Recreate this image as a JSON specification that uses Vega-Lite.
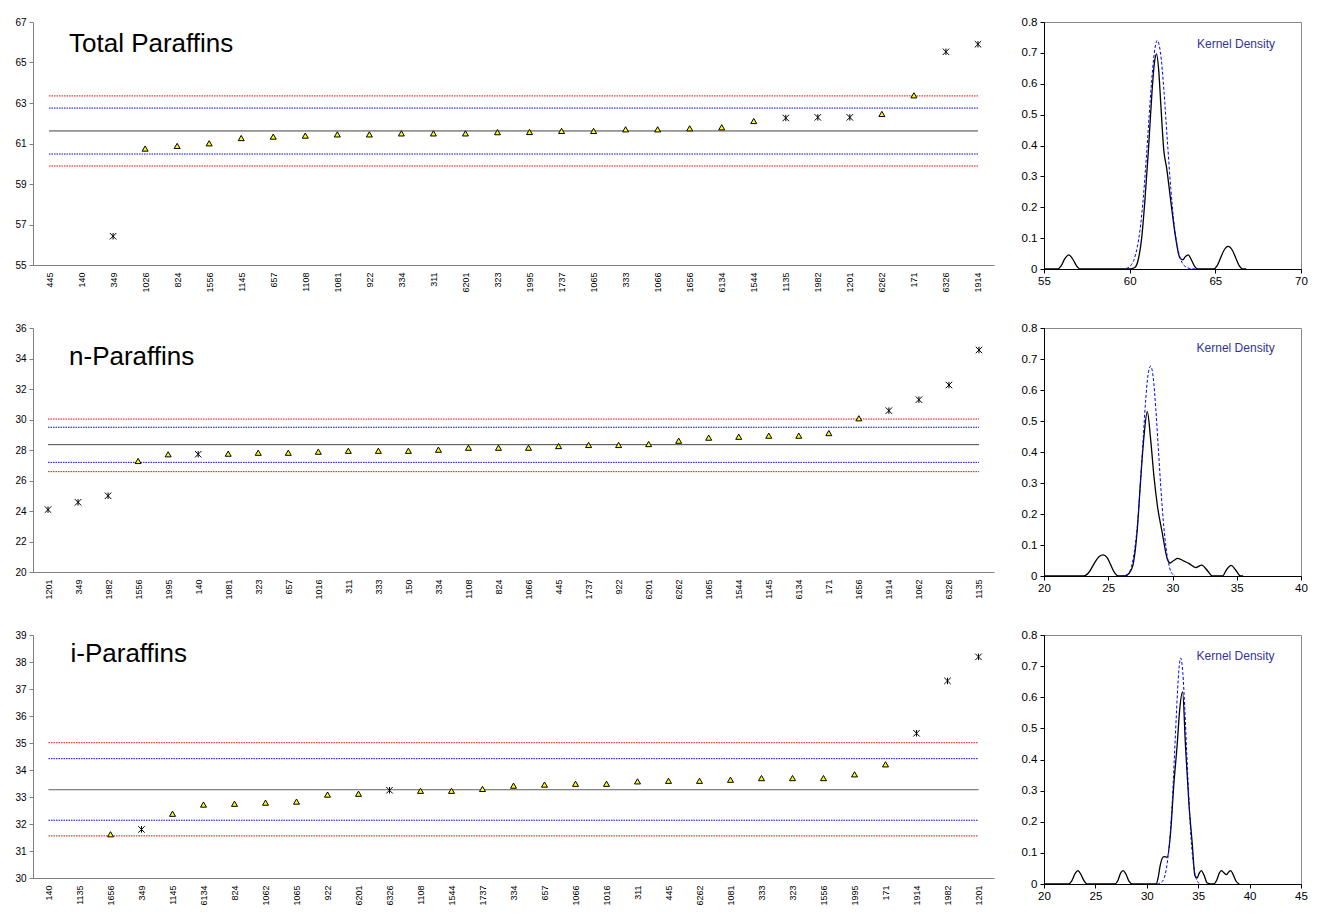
{
  "$schema": "https://vega.github.io/schema/vega-lite/v6.json",
  "padding": {"left": 14, "top": 15, "right": 5, "bottom": 5},
  "background": "#ffffff",
  "config": {
    "font": "Liberation Sans",
    "view": {"stroke": null},
    "axis": {"grid": false, "title": null, "labelFont": "Liberation Sans", "labelColor": "#000000", "labelOverlap": false, "labelFlush": false}
  },
  "datasets": {
    "tp": [
      {"code": "349", "v": 56.42, "o": 1},
      {"code": "1026", "v": 60.75, "o": 0},
      {"code": "824", "v": 60.88, "o": 0},
      {"code": "1556", "v": 61.01, "o": 0},
      {"code": "1145", "v": 61.27, "o": 0},
      {"code": "657", "v": 61.34, "o": 0},
      {"code": "1108", "v": 61.39, "o": 0},
      {"code": "1081", "v": 61.45, "o": 0},
      {"code": "922", "v": 61.45, "o": 0},
      {"code": "334", "v": 61.5, "o": 0},
      {"code": "311", "v": 61.5, "o": 0},
      {"code": "6201", "v": 61.5, "o": 0},
      {"code": "323", "v": 61.56, "o": 0},
      {"code": "1995", "v": 61.57, "o": 0},
      {"code": "1737", "v": 61.62, "o": 0},
      {"code": "1065", "v": 61.62, "o": 0},
      {"code": "333", "v": 61.7, "o": 0},
      {"code": "1066", "v": 61.7, "o": 0},
      {"code": "1656", "v": 61.75, "o": 0},
      {"code": "6134", "v": 61.8, "o": 0},
      {"code": "1544", "v": 62.11, "o": 0},
      {"code": "1135", "v": 62.26, "o": 1},
      {"code": "1982", "v": 62.29, "o": 1},
      {"code": "1201", "v": 62.29, "o": 1},
      {"code": "6262", "v": 62.46, "o": 0},
      {"code": "171", "v": 63.38, "o": 0},
      {"code": "6326", "v": 65.53, "o": 1},
      {"code": "1914", "v": 65.9, "o": 1}
    ],
    "np": [
      {"code": "1201", "v": 24.09, "o": 1},
      {"code": "349", "v": 24.57, "o": 1},
      {"code": "1982", "v": 25.0, "o": 1},
      {"code": "1556", "v": 27.28, "o": 0},
      {"code": "1995", "v": 27.72, "o": 0},
      {"code": "140", "v": 27.72, "o": 1},
      {"code": "1081", "v": 27.76, "o": 0},
      {"code": "323", "v": 27.82, "o": 0},
      {"code": "657", "v": 27.82, "o": 0},
      {"code": "1016", "v": 27.89, "o": 0},
      {"code": "311", "v": 27.95, "o": 0},
      {"code": "333", "v": 27.95, "o": 0},
      {"code": "150", "v": 27.95, "o": 0},
      {"code": "334", "v": 28.02, "o": 0},
      {"code": "1108", "v": 28.15, "o": 0},
      {"code": "824", "v": 28.15, "o": 0},
      {"code": "1066", "v": 28.15, "o": 0},
      {"code": "445", "v": 28.26, "o": 0},
      {"code": "1737", "v": 28.33, "o": 0},
      {"code": "922", "v": 28.33, "o": 0},
      {"code": "6201", "v": 28.39, "o": 0},
      {"code": "6262", "v": 28.61, "o": 0},
      {"code": "1065", "v": 28.81, "o": 0},
      {"code": "1544", "v": 28.87, "o": 0},
      {"code": "1145", "v": 28.94, "o": 0},
      {"code": "6134", "v": 28.94, "o": 0},
      {"code": "171", "v": 29.11, "o": 0},
      {"code": "1656", "v": 30.08, "o": 0},
      {"code": "1914", "v": 30.58, "o": 1},
      {"code": "1062", "v": 31.3, "o": 1},
      {"code": "6326", "v": 32.26, "o": 1},
      {"code": "1135", "v": 34.56, "o": 1}
    ],
    "ip": [
      {"code": "1656", "v": 31.62, "o": 0},
      {"code": "349", "v": 31.8, "o": 1},
      {"code": "1145", "v": 32.38, "o": 0},
      {"code": "6134", "v": 32.72, "o": 0},
      {"code": "824", "v": 32.75, "o": 0},
      {"code": "1062", "v": 32.79, "o": 0},
      {"code": "1065", "v": 32.83, "o": 0},
      {"code": "922", "v": 33.09, "o": 0},
      {"code": "6201", "v": 33.12, "o": 0},
      {"code": "6326", "v": 33.25, "o": 1},
      {"code": "1108", "v": 33.23, "o": 0},
      {"code": "1544", "v": 33.23, "o": 0},
      {"code": "1737", "v": 33.3, "o": 0},
      {"code": "334", "v": 33.42, "o": 0},
      {"code": "657", "v": 33.46, "o": 0},
      {"code": "1066", "v": 33.49, "o": 0},
      {"code": "1016", "v": 33.49, "o": 0},
      {"code": "311", "v": 33.58, "o": 0},
      {"code": "445", "v": 33.6, "o": 0},
      {"code": "6262", "v": 33.6, "o": 0},
      {"code": "1081", "v": 33.64, "o": 0},
      {"code": "333", "v": 33.7, "o": 0},
      {"code": "323", "v": 33.7, "o": 0},
      {"code": "1556", "v": 33.7, "o": 0},
      {"code": "1995", "v": 33.84, "o": 0},
      {"code": "171", "v": 34.21, "o": 0},
      {"code": "1914", "v": 35.36, "o": 1},
      {"code": "1982", "v": 37.3, "o": 1},
      {"code": "1201", "v": 38.19, "o": 1}
    ],
    "tp_lim": [
      {"kind": "outer", "v": 63.35}, {"kind": "inner", "v": 62.75}, {"kind": "mean", "v": 61.62}, {"kind": "inner", "v": 60.48}, {"kind": "outer", "v": 59.89}
    ],
    "np_lim": [
      {"kind": "outer", "v": 30.03}, {"kind": "inner", "v": 29.49}, {"kind": "mean", "v": 28.35}, {"kind": "inner", "v": 27.19}, {"kind": "outer", "v": 26.58}
    ],
    "ip_lim": [
      {"kind": "outer", "v": 35.01}, {"kind": "inner", "v": 34.42}, {"kind": "mean", "v": 33.27}, {"kind": "inner", "v": 32.14}, {"kind": "outer", "v": 31.56}
    ],
    "tp_k": [
      {"x": 55, "d": 0}, {"x": 55.8, "d": 0}, {"x": 56.0, "d": 0.01}, {"x": 56.2, "d": 0.032}, {"x": 56.45, "d": 0.046}, {"x": 56.7, "d": 0.03}, {"x": 56.9, "d": 0.01}, {"x": 57.1, "d": 0},
      {"x": 60.0, "d": 0}, {"x": 60.3, "d": 0.005}, {"x": 60.5, "d": 0.03}, {"x": 60.7, "d": 0.1}, {"x": 60.9, "d": 0.23}, {"x": 61.1, "d": 0.39}, {"x": 61.3, "d": 0.57}, {"x": 61.45, "d": 0.67}, {"x": 61.57, "d": 0.697}, {"x": 61.7, "d": 0.64}, {"x": 61.8, "d": 0.55}, {"x": 62.0, "d": 0.38}, {"x": 62.15, "d": 0.33}, {"x": 62.4, "d": 0.22}, {"x": 62.66, "d": 0.11}, {"x": 62.93, "d": 0.036}, {"x": 63.1, "d": 0.03}, {"x": 63.25, "d": 0.04}, {"x": 63.42, "d": 0.046}, {"x": 63.6, "d": 0.03}, {"x": 63.8, "d": 0.008}, {"x": 64.0, "d": 0},
      {"x": 64.9, "d": 0}, {"x": 65.1, "d": 0.01}, {"x": 65.3, "d": 0.035}, {"x": 65.5, "d": 0.06}, {"x": 65.75, "d": 0.073}, {"x": 66.0, "d": 0.06}, {"x": 66.2, "d": 0.035}, {"x": 66.4, "d": 0.01}, {"x": 66.6, "d": 0}, {"x": 66.8, "d": 0}
    ],
    "tp_n": [
      {"x": 59.8, "d": 0.002}, {"x": 60.0, "d": 0.008}, {"x": 60.3, "d": 0.038}, {"x": 60.6, "d": 0.125}, {"x": 60.8, "d": 0.233}, {"x": 61.0, "d": 0.383}, {"x": 61.2, "d": 0.547}, {"x": 61.4, "d": 0.681}, {"x": 61.6, "d": 0.74}, {"x": 61.8, "d": 0.7}, {"x": 62.0, "d": 0.578}, {"x": 62.2, "d": 0.416}, {"x": 62.4, "d": 0.261}, {"x": 62.6, "d": 0.143}, {"x": 62.8, "d": 0.068}, {"x": 63.0, "d": 0.028}, {"x": 63.3, "d": 0.006}, {"x": 63.6, "d": 0.001}, {"x": 64.0, "d": 0}
    ],
    "np_k": [
      {"x": 20, "d": 0}, {"x": 23.1, "d": 0}, {"x": 23.5, "d": 0.012}, {"x": 23.9, "d": 0.04}, {"x": 24.3, "d": 0.063}, {"x": 24.6, "d": 0.068}, {"x": 24.9, "d": 0.06}, {"x": 25.2, "d": 0.035}, {"x": 25.5, "d": 0.01}, {"x": 25.8, "d": 0},
      {"x": 26.3, "d": 0}, {"x": 26.6, "d": 0.008}, {"x": 26.9, "d": 0.032}, {"x": 27.26, "d": 0.15}, {"x": 27.52, "d": 0.31}, {"x": 27.78, "d": 0.45}, {"x": 28.04, "d": 0.53}, {"x": 28.3, "d": 0.44}, {"x": 28.56, "d": 0.32}, {"x": 28.83, "d": 0.225}, {"x": 29.2, "d": 0.14}, {"x": 29.6, "d": 0.054}, {"x": 29.8, "d": 0.042}, {"x": 30.1, "d": 0.05}, {"x": 30.4, "d": 0.057}, {"x": 30.9, "d": 0.048}, {"x": 31.3, "d": 0.04}, {"x": 31.8, "d": 0.027}, {"x": 32.27, "d": 0.035}, {"x": 32.74, "d": 0.016}, {"x": 33.1, "d": 0},
      {"x": 33.9, "d": 0}, {"x": 34.2, "d": 0.02}, {"x": 34.57, "d": 0.034}, {"x": 34.9, "d": 0.02}, {"x": 35.3, "d": 0}, {"x": 35.5, "d": 0}
    ],
    "np_n": [
      {"x": 26.0, "d": 0}, {"x": 26.5, "d": 0.005}, {"x": 26.8, "d": 0.03}, {"x": 27.1, "d": 0.1}, {"x": 27.3, "d": 0.18}, {"x": 27.5, "d": 0.3}, {"x": 27.7, "d": 0.43}, {"x": 27.9, "d": 0.56}, {"x": 28.1, "d": 0.65}, {"x": 28.3, "d": 0.677}, {"x": 28.5, "d": 0.64}, {"x": 28.7, "d": 0.54}, {"x": 28.9, "d": 0.41}, {"x": 29.1, "d": 0.28}, {"x": 29.3, "d": 0.17}, {"x": 29.5, "d": 0.09}, {"x": 29.7, "d": 0.04}, {"x": 29.9, "d": 0.012}, {"x": 30.2, "d": 0}
    ],
    "ip_k": [
      {"x": 20, "d": 0}, {"x": 22.4, "d": 0}, {"x": 22.7, "d": 0.01}, {"x": 23.0, "d": 0.032}, {"x": 23.3, "d": 0.043}, {"x": 23.6, "d": 0.03}, {"x": 23.9, "d": 0.01}, {"x": 24.2, "d": 0},
      {"x": 26.9, "d": 0}, {"x": 27.2, "d": 0.012}, {"x": 27.45, "d": 0.035}, {"x": 27.7, "d": 0.043}, {"x": 27.95, "d": 0.033}, {"x": 28.25, "d": 0.01}, {"x": 28.6, "d": 0},
      {"x": 30.9, "d": 0}, {"x": 31.1, "d": 0.02}, {"x": 31.33, "d": 0.064}, {"x": 31.65, "d": 0.088}, {"x": 31.98, "d": 0.086}, {"x": 32.3, "d": 0.16}, {"x": 32.63, "d": 0.32}, {"x": 32.96, "d": 0.45}, {"x": 33.2, "d": 0.56}, {"x": 33.48, "d": 0.617}, {"x": 33.77, "d": 0.44}, {"x": 34.1, "d": 0.257}, {"x": 34.42, "d": 0.13}, {"x": 34.68, "d": 0.027}, {"x": 34.9, "d": 0.02}, {"x": 35.1, "d": 0.035}, {"x": 35.3, "d": 0.043}, {"x": 35.55, "d": 0.03}, {"x": 35.89, "d": 0.003}, {"x": 36.5, "d": 0},
      {"x": 36.8, "d": 0.012}, {"x": 37.05, "d": 0.035}, {"x": 37.25, "d": 0.043}, {"x": 37.5, "d": 0.036}, {"x": 37.74, "d": 0.03}, {"x": 37.95, "d": 0.038}, {"x": 38.16, "d": 0.043}, {"x": 38.4, "d": 0.03}, {"x": 38.7, "d": 0.008}, {"x": 39.0, "d": 0}
    ],
    "ip_n": [
      {"x": 31.0, "d": 0}, {"x": 31.4, "d": 0.005}, {"x": 31.7, "d": 0.02}, {"x": 32.0, "d": 0.07}, {"x": 32.3, "d": 0.17}, {"x": 32.5, "d": 0.28}, {"x": 32.7, "d": 0.42}, {"x": 32.9, "d": 0.56}, {"x": 33.1, "d": 0.68}, {"x": 33.3, "d": 0.726}, {"x": 33.5, "d": 0.68}, {"x": 33.7, "d": 0.56}, {"x": 33.9, "d": 0.41}, {"x": 34.1, "d": 0.27}, {"x": 34.3, "d": 0.15}, {"x": 34.5, "d": 0.075}, {"x": 34.7, "d": 0.03}, {"x": 34.9, "d": 0.01}, {"x": 35.2, "d": 0}
    ]
  },
  "columns": 2,
  "bounds": "flush",
  "spacing": {"row": 59, "column": 50},
  "concat": [
    {
      "width": 961, "height": 243,
      "layer": [
        {
          "data": {"name": "tp_lim"},
          "mark": {"type": "rule", "strokeWidth": 1},
          "encoding": {
            "x": {"datum": "445", "type": "nominal"},
            "x2": {"datum": "1914"},
            "y": {"field": "v", "type": "quantitative"},
            "stroke": {"field": "kind", "type": "nominal", "scale": {"domain": ["mean", "inner", "outer"], "range": ["#404040", "#0000FF", "#FF0000"]}, "legend": null},
            "strokeDash": {"field": "kind", "type": "nominal", "scale": {"domain": ["mean", "inner", "outer"], "range": [[1, 0], [1.5, 1], [1.5, 1]]}, "legend": null}
          }
        },
        {
          "data": {"name": "tp"},
          "transform": [{"filter": "datum.o == 0"}],
          "mark": {"type": "point", "shape": "triangle-up", "filled": true, "fill": "#FFFF00", "stroke": "#000000", "strokeWidth": 1, "size": 36, "opacity": 1},
          "encoding": {
            "x": {"field": "code", "type": "nominal", "scale": {"type": "point", "padding": 0.5, "domain": ["445", "140", "349", "1026", "824", "1556", "1145", "657", "1108", "1081", "922", "334", "311", "6201", "323", "1995", "1737", "1065", "333", "1066", "1656", "6134", "1544", "1135", "1982", "1201", "6262", "171", "6326", "1914"]}, "axis": {"labelAngle": -90, "labelFontSize": 9, "ticks": false, "labelPadding": 7, "domainColor": "#808080"}},
            "y": {"field": "v", "type": "quantitative", "scale": {"domain": [55, 67], "nice": false, "zero": false}, "axis": {"values": [55, 57, 59, 61, 63, 65, 67], "tickCount": 40, "format": "d", "labelOverlap": false, "labelFontSize": 10, "tickSize": 4, "labelPadding": 3, "domainColor": "#808080", "tickColor": "#808080"}}
          }
        },
        {
          "data": {"name": "tp"},
          "transform": [{"filter": "datum.o == 1"}],
          "mark": {"type": "point", "shape": "M-1,-1L1,1M-1,1L1,-1M0,-1L0,1", "filled": false, "stroke": "#000000", "strokeWidth": 1, "size": 42, "opacity": 1},
          "encoding": {
            "x": {"field": "code", "type": "nominal"},
            "y": {"field": "v", "type": "quantitative"}
          }
        },
        {
          "data": {"values": [{"t": "Total Paraffins"}]},
          "mark": {"type": "text", "align": "left", "baseline": "alphabetic", "fontSize": 26, "dx": 20, "color": "#000000"},
          "encoding": {
            "x": {"datum": "445", "type": "nominal"},
            "y": {"datum": 65.52},
            "text": {"field": "t"}
          }
        }
      ]
    },
    {
      "width": 257, "height": 247,
      "view": {"stroke": "#888888"},
      "layer": [
        {
          "data": {"name": "tp_k"},
          "mark": {"type": "line", "stroke": "#000000", "strokeWidth": 1.3, "interpolate": "monotone"},
          "encoding": {
            "x": {"field": "x", "type": "quantitative", "scale": {"domain": [55, 70], "nice": false, "zero": false}, "axis": {"values": [55, 60, 65, 70], "tickCount": 40, "format": "d", "labelFontSize": 11.5, "tickSize": 4, "labelPadding": 2, "domainColor": "#000000", "tickColor": "#000000"}},
            "y": {"field": "d", "type": "quantitative", "scale": {"domain": [0, 0.8], "nice": false}, "axis": {"values": [0, 0.1, 0.2, 0.3, 0.4, 0.5, 0.6, 0.7, 0.8], "tickCount": 40, "labelOverlap": false, "format": "~g", "labelFontSize": 11.5, "tickSize": 4, "labelPadding": 3, "domainColor": "#000000", "tickColor": "#000000"}}
          }
        },
        {
          "data": {"name": "tp_n"},
          "mark": {"type": "line", "stroke": "#0000FF", "strokeWidth": 1, "strokeDash": [3, 2], "interpolate": "monotone"},
          "encoding": {
            "x": {"field": "x", "type": "quantitative"},
            "y": {"field": "d", "type": "quantitative"}
          }
        },
        {
          "data": {"values": [{"t": "Kernel Density"}]},
          "mark": {"type": "text", "align": "left", "baseline": "alphabetic", "fontSize": 12, "color": "#333399"},
          "encoding": {
            "x": {"datum": 63.93},
            "y": {"datum": 0.716},
            "text": {"field": "t"}
          }
        }
      ]
    },
    {
      "width": 961, "height": 244,
      "layer": [
        {
          "data": {"name": "np_lim"},
          "mark": {"type": "rule", "strokeWidth": 1},
          "encoding": {
            "x": {"datum": "1201", "type": "nominal"},
            "x2": {"datum": "1135"},
            "y": {"field": "v", "type": "quantitative"},
            "stroke": {"field": "kind", "type": "nominal", "scale": {"domain": ["mean", "inner", "outer"], "range": ["#404040", "#0000FF", "#FF0000"]}, "legend": null},
            "strokeDash": {"field": "kind", "type": "nominal", "scale": {"domain": ["mean", "inner", "outer"], "range": [[1, 0], [1.5, 1], [1.5, 1]]}, "legend": null}
          }
        },
        {
          "data": {"name": "np"},
          "transform": [{"filter": "datum.o == 0"}],
          "mark": {"type": "point", "shape": "triangle-up", "filled": true, "fill": "#FFFF00", "stroke": "#000000", "strokeWidth": 1, "size": 36, "opacity": 1},
          "encoding": {
            "x": {"field": "code", "type": "nominal", "scale": {"type": "point", "padding": 0.5, "domain": ["1201", "349", "1982", "1556", "1995", "140", "1081", "323", "657", "1016", "311", "333", "150", "334", "1108", "824", "1066", "445", "1737", "922", "6201", "6262", "1065", "1544", "1145", "6134", "171", "1656", "1914", "1062", "6326", "1135"]}, "axis": {"labelAngle": -90, "labelFontSize": 9, "ticks": false, "labelPadding": 7, "domainColor": "#808080"}},
            "y": {"field": "v", "type": "quantitative", "scale": {"domain": [20, 36], "nice": false, "zero": false}, "axis": {"values": [20, 22, 24, 26, 28, 30, 32, 34, 36], "tickCount": 40, "format": "d", "labelOverlap": false, "labelFontSize": 10, "tickSize": 4, "labelPadding": 3, "domainColor": "#808080", "tickColor": "#808080"}}
          }
        },
        {
          "data": {"name": "np"},
          "transform": [{"filter": "datum.o == 1"}],
          "mark": {"type": "point", "shape": "M-1,-1L1,1M-1,1L1,-1M0,-1L0,1", "filled": false, "stroke": "#000000", "strokeWidth": 1, "size": 42, "opacity": 1},
          "encoding": {
            "x": {"field": "code", "type": "nominal"},
            "y": {"field": "v", "type": "quantitative"}
          }
        },
        {
          "data": {"values": [{"t": "n-Paraffins"}]},
          "mark": {"type": "text", "align": "left", "baseline": "alphabetic", "fontSize": 26, "dx": 21, "color": "#000000"},
          "encoding": {
            "x": {"datum": "1201", "type": "nominal"},
            "y": {"datum": 33.57},
            "text": {"field": "t"}
          }
        }
      ]
    },
    {
      "width": 257, "height": 248,
      "view": {"stroke": "#888888"},
      "layer": [
        {
          "data": {"name": "np_k"},
          "mark": {"type": "line", "stroke": "#000000", "strokeWidth": 1.3, "interpolate": "monotone"},
          "encoding": {
            "x": {"field": "x", "type": "quantitative", "scale": {"domain": [20, 40], "nice": false, "zero": false}, "axis": {"values": [20, 25, 30, 35, 40], "tickCount": 40, "format": "d", "labelFontSize": 11.5, "tickSize": 4, "labelPadding": 2, "domainColor": "#000000", "tickColor": "#000000"}},
            "y": {"field": "d", "type": "quantitative", "scale": {"domain": [0, 0.8], "nice": false}, "axis": {"values": [0, 0.1, 0.2, 0.3, 0.4, 0.5, 0.6, 0.7, 0.8], "tickCount": 40, "labelOverlap": false, "format": "~g", "labelFontSize": 11.5, "tickSize": 4, "labelPadding": 3, "domainColor": "#000000", "tickColor": "#000000"}}
          }
        },
        {
          "data": {"name": "np_n"},
          "mark": {"type": "line", "stroke": "#0000FF", "strokeWidth": 1, "strokeDash": [3, 2], "interpolate": "monotone"},
          "encoding": {
            "x": {"field": "x", "type": "quantitative"},
            "y": {"field": "d", "type": "quantitative"}
          }
        },
        {
          "data": {"values": [{"t": "Kernel Density"}]},
          "mark": {"type": "text", "align": "left", "baseline": "alphabetic", "fontSize": 12, "color": "#333399"},
          "encoding": {
            "x": {"datum": 31.875},
            "y": {"datum": 0.7216},
            "text": {"field": "t"}
          }
        }
      ]
    },
    {
      "width": 961, "height": 243,
      "layer": [
        {
          "data": {"name": "ip_lim"},
          "mark": {"type": "rule", "strokeWidth": 1},
          "encoding": {
            "x": {"datum": "140", "type": "nominal"},
            "x2": {"datum": "1201"},
            "y": {"field": "v", "type": "quantitative"},
            "stroke": {"field": "kind", "type": "nominal", "scale": {"domain": ["mean", "inner", "outer"], "range": ["#404040", "#0000FF", "#FF0000"]}, "legend": null},
            "strokeDash": {"field": "kind", "type": "nominal", "scale": {"domain": ["mean", "inner", "outer"], "range": [[1, 0], [1.5, 1], [1.5, 1]]}, "legend": null}
          }
        },
        {
          "data": {"name": "ip"},
          "transform": [{"filter": "datum.o == 0"}],
          "mark": {"type": "point", "shape": "triangle-up", "filled": true, "fill": "#FFFF00", "stroke": "#000000", "strokeWidth": 1, "size": 36, "opacity": 1},
          "encoding": {
            "x": {"field": "code", "type": "nominal", "scale": {"type": "point", "padding": 0.5, "domain": ["140", "1135", "1656", "349", "1145", "6134", "824", "1062", "1065", "922", "6201", "6326", "1108", "1544", "1737", "334", "657", "1066", "1016", "311", "445", "6262", "1081", "333", "323", "1556", "1995", "171", "1914", "1982", "1201"]}, "axis": {"labelAngle": -90, "labelFontSize": 9, "ticks": false, "labelPadding": 7, "domainColor": "#808080"}},
            "y": {"field": "v", "type": "quantitative", "scale": {"domain": [30, 39], "nice": false, "zero": false}, "axis": {"values": [30, 31, 32, 33, 34, 35, 36, 37, 38, 39], "tickCount": 40, "format": "d", "labelOverlap": false, "labelFontSize": 10, "tickSize": 4, "labelPadding": 3, "domainColor": "#808080", "tickColor": "#808080"}}
          }
        },
        {
          "data": {"name": "ip"},
          "transform": [{"filter": "datum.o == 1"}],
          "mark": {"type": "point", "shape": "M-1,-1L1,1M-1,1L1,-1M0,-1L0,1", "filled": false, "stroke": "#000000", "strokeWidth": 1, "size": 42, "opacity": 1},
          "encoding": {
            "x": {"field": "code", "type": "nominal"},
            "y": {"field": "v", "type": "quantitative"}
          }
        },
        {
          "data": {"values": [{"t": "i-Paraffins"}]},
          "mark": {"type": "text", "align": "left", "baseline": "alphabetic", "fontSize": 26, "dx": 22, "color": "#000000"},
          "encoding": {
            "x": {"datum": "140", "type": "nominal"},
            "y": {"datum": 38.01},
            "text": {"field": "t"}
          }
        }
      ]
    },
    {
      "width": 257, "height": 249,
      "view": {"stroke": "#888888"},
      "layer": [
        {
          "data": {"name": "ip_k"},
          "mark": {"type": "line", "stroke": "#000000", "strokeWidth": 1.3, "interpolate": "monotone"},
          "encoding": {
            "x": {"field": "x", "type": "quantitative", "scale": {"domain": [20, 45], "nice": false, "zero": false}, "axis": {"values": [20, 25, 30, 35, 40, 45], "tickCount": 40, "format": "d", "labelFontSize": 11.5, "tickSize": 4, "labelPadding": 2, "domainColor": "#000000", "tickColor": "#000000"}},
            "y": {"field": "d", "type": "quantitative", "scale": {"domain": [0, 0.8], "nice": false}, "axis": {"values": [0, 0.1, 0.2, 0.3, 0.4, 0.5, 0.6, 0.7, 0.8], "tickCount": 40, "labelOverlap": false, "format": "~g", "labelFontSize": 11.5, "tickSize": 4, "labelPadding": 3, "domainColor": "#000000", "tickColor": "#000000"}}
          }
        },
        {
          "data": {"name": "ip_n"},
          "mark": {"type": "line", "stroke": "#0000FF", "strokeWidth": 1, "strokeDash": [3, 2], "interpolate": "monotone"},
          "encoding": {
            "x": {"field": "x", "type": "quantitative"},
            "y": {"field": "d", "type": "quantitative"}
          }
        },
        {
          "data": {"values": [{"t": "Kernel Density"}]},
          "mark": {"type": "text", "align": "left", "baseline": "alphabetic", "fontSize": 12, "color": "#333399"},
          "encoding": {
            "x": {"datum": 34.84},
            "y": {"datum": 0.719},
            "text": {"field": "t"}
          }
        }
      ]
    }
  ]
}
